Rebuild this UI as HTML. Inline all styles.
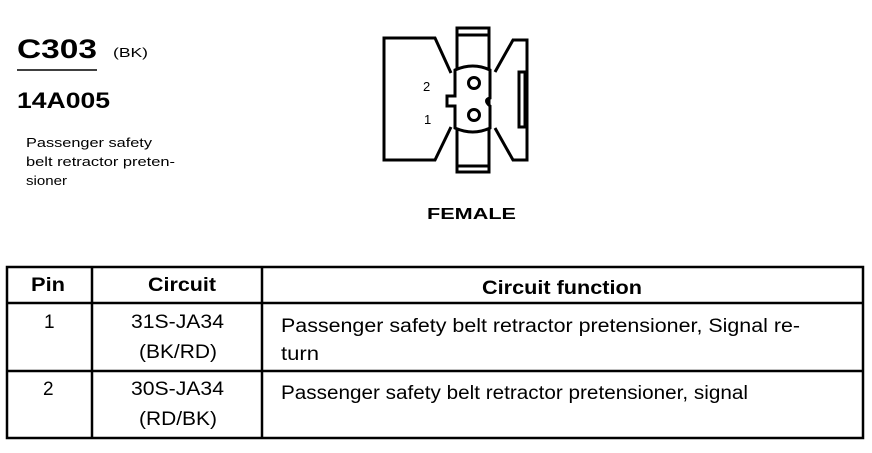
<!DOCTYPE html>
<html><head><style>
body{margin:0;background:#fff;width:872px;height:448px;overflow:hidden}
svg text{font-family:"Liberation Sans",Arial,sans-serif;fill:#000}
</style></head><body>
<svg width="872" height="448" viewBox="0 0 872 448" xmlns="http://www.w3.org/2000/svg">
<text x="17" y="58" font-size="27" font-weight="bold" textLength="80" lengthAdjust="spacingAndGlyphs">C303</text>
<text x="113" y="57" font-size="13" textLength="35" lengthAdjust="spacingAndGlyphs">(BK)</text>
<line x1="17" y1="70" x2="97" y2="70" stroke="#000" stroke-width="1.5"/>
<text x="17" y="108" font-size="22" font-weight="bold" textLength="93" lengthAdjust="spacingAndGlyphs">14A005</text>
<text x="26" y="147" font-size="13" textLength="126" lengthAdjust="spacingAndGlyphs">Passenger safety</text>
<text x="26" y="166" font-size="13" textLength="149" lengthAdjust="spacingAndGlyphs">belt retractor preten-</text>
<text x="26" y="185" font-size="13" textLength="41" lengthAdjust="spacingAndGlyphs">sioner</text>

<g fill="none" stroke="#000" stroke-width="3" stroke-linejoin="miter">
<polyline points="451,73 435,38 384,38 384,160 435,160 451,127"/>
<polyline points="495,72 513,40 527,40 527,160 513,160 495,128"/>
<rect x="457" y="28" width="32" height="144"/>
<line x1="457" y1="35" x2="489" y2="35"/>
<line x1="457" y1="166" x2="489" y2="166"/>
<path d="M455,70 Q473,62 490,70 L490,98 Q483,100 490,106 L490,128 Q473,136 455,128 L455,106 L447,106 L447,96 L455,96 Z" fill="#fff"/>
<circle cx="474" cy="83" r="5.5"/>
<circle cx="474" cy="115" r="5.5"/>
<rect x="519" y="72" width="6" height="55"/>
</g>
<text x="423" y="91" font-size="13">2</text>
<text x="424" y="124" font-size="13">1</text>
<text x="427" y="219" font-size="16" font-weight="bold" textLength="89" lengthAdjust="spacingAndGlyphs">FEMALE</text>

<g stroke="#000" stroke-width="2.5" fill="none">
<rect x="7" y="267" width="856" height="171"/>
<line x1="7" y1="303" x2="863" y2="303"/>
<line x1="7" y1="371" x2="863" y2="371"/>
<line x1="92" y1="267" x2="92" y2="438"/>
<line x1="262" y1="267" x2="262" y2="438"/>
</g>
<g font-size="19">
<text x="31" y="291" font-weight="bold" textLength="34" lengthAdjust="spacingAndGlyphs">Pin</text>
<text x="148" y="291" font-weight="bold" textLength="68" lengthAdjust="spacingAndGlyphs">Circuit</text>
<text x="482" y="294" font-weight="bold" textLength="160" lengthAdjust="spacingAndGlyphs">Circuit function</text>
<text x="44" y="328">1</text>
<text x="131" y="328" textLength="93" lengthAdjust="spacingAndGlyphs">31S-JA34</text>
<text x="139" y="358" textLength="78" lengthAdjust="spacingAndGlyphs">(BK/RD)</text>
<text x="43" y="395">2</text>
<text x="131" y="395" textLength="93" lengthAdjust="spacingAndGlyphs">30S-JA34</text>
<text x="139" y="425" textLength="78" lengthAdjust="spacingAndGlyphs">(RD/BK)</text>
<text x="281" y="332" textLength="519" lengthAdjust="spacingAndGlyphs">Passenger safety belt retractor pretensioner, Signal re-</text>
<text x="281" y="360" textLength="38" lengthAdjust="spacingAndGlyphs">turn</text>
<text x="281" y="399" textLength="467" lengthAdjust="spacingAndGlyphs">Passenger safety belt retractor pretensioner, signal</text>
</g>
</svg>
</body></html>
